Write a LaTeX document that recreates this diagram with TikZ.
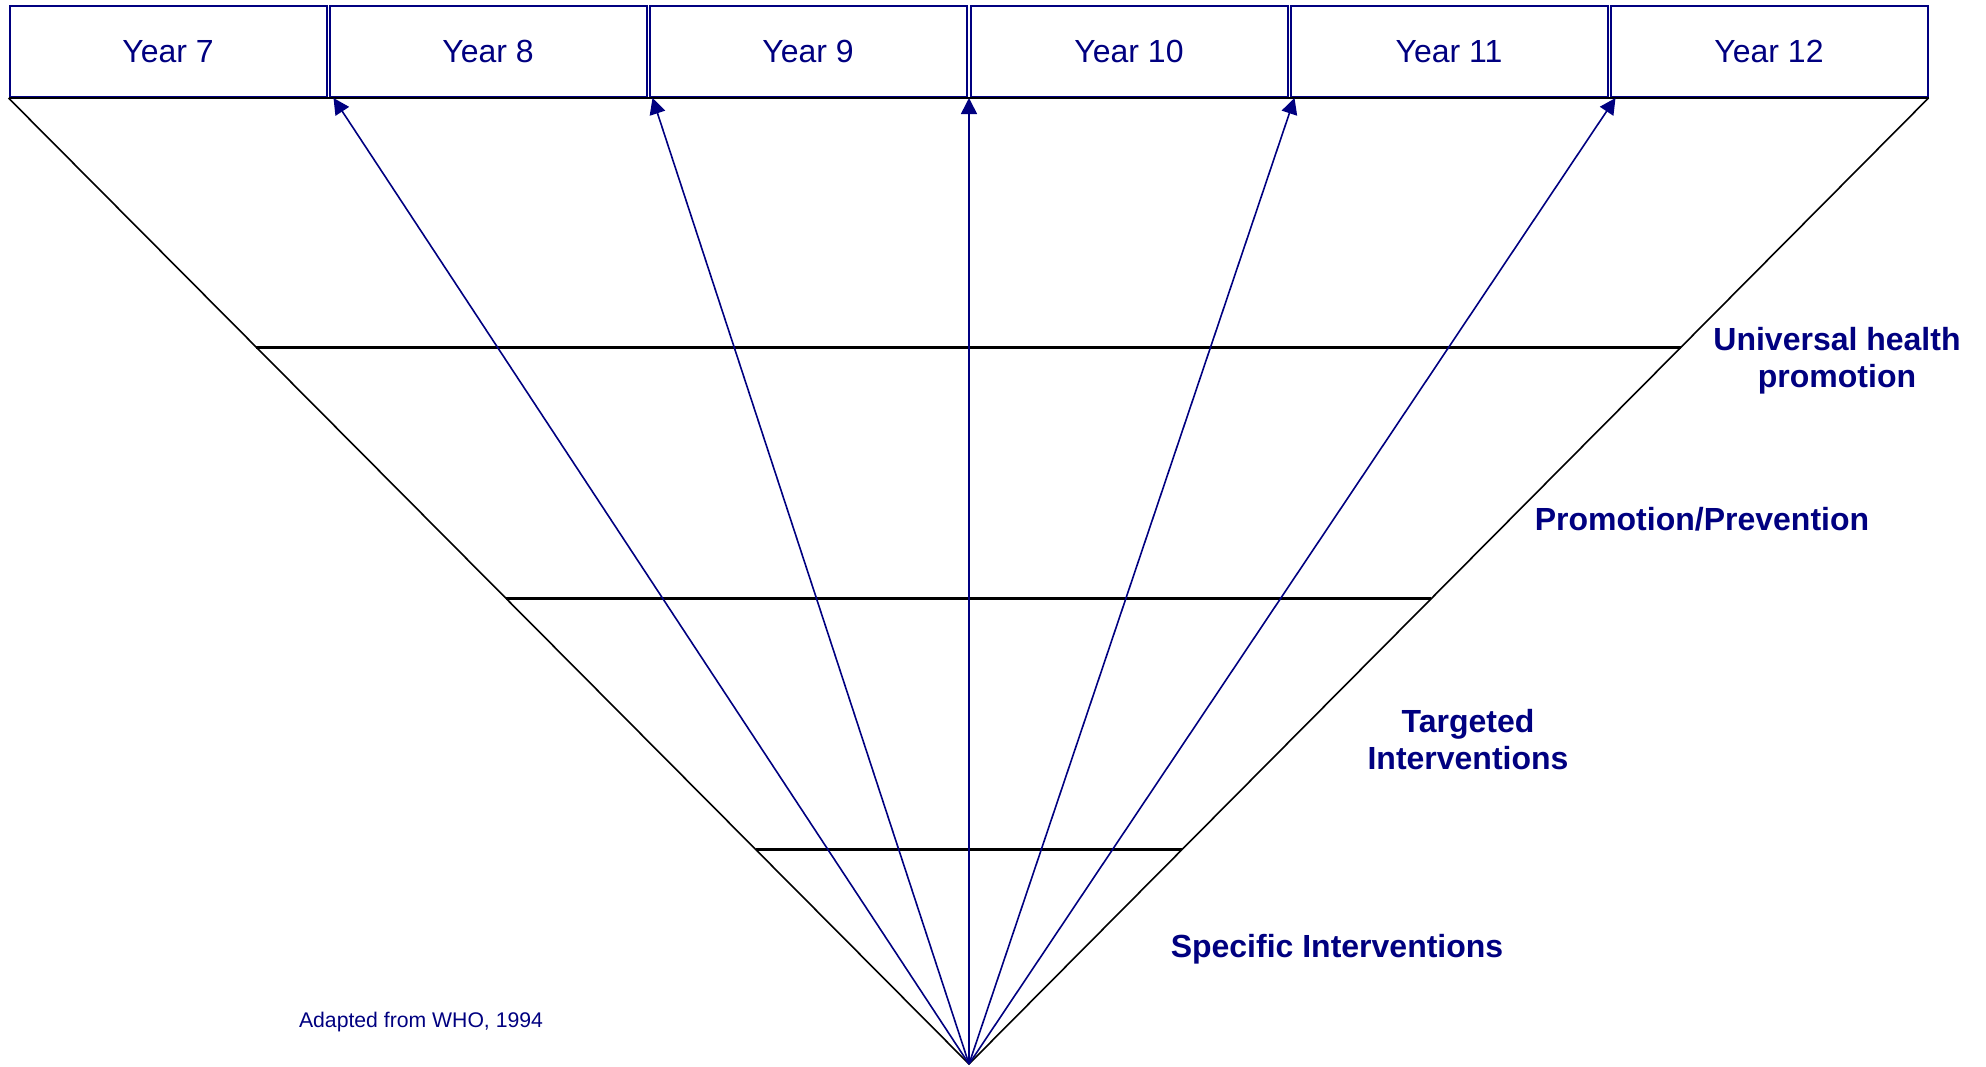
\documentclass[tikz,border=0pt]{standalone}
\usepackage{fontspec}
\setmainfont{Liberation Sans}
\usetikzlibrary{arrows.meta,calc}
\definecolor{navy}{RGB}{0,0,128}
\tikzset{
  yearbox/.style={draw=navy, line width=1pt, text=navy, minimum width=158.5pt,
    minimum height=45.5pt, inner sep=0pt, font=\fontsize{16}{19}\selectfont},
  level/.style={text=navy, align=center, font=\fontsize{16}{18.5}\selectfont\bfseries},
  funnel/.style={black, line width=0.8pt},
  bar/.style={black, line width=1.3pt},
  >={Triangle[length=8pt,width=8pt]}
}
\begin{document}
\begin{tikzpicture} [x=0.5pt, y=-0.5pt]
\useasboundingbox (0,0) rectangle (1986,1066);

\node [yearbox] (y7) at (168,51.5) {Year 7};
\node [yearbox] (y8) at (488,51.5) {Year 8};
\node [yearbox] (y9) at (808,51.5) {Year 9};
\node [yearbox] (y10) at (1129,51.5) {Year 10};
\node [yearbox] (y11) at (1449,51.5) {Year 11};
\node [yearbox] (y12) at (1769,51.5) {Year 12};

\coordinate (apex) at (969,1064);

% the funnel
\draw [funnel] (y7.south west)--(y12.south east);
\draw [funnel] (y7.south west)--(apex)--(y12.south east);

\coordinate (l1) at ($(y7.south west)!0.258!(apex)$);
\coordinate (r1) at ($(y12.south east)!0.258!(apex)$);
\coordinate (l2) at ($(y7.south west)!0.518!(apex)$);
\coordinate (r2) at ($(y12.south east)!0.518!(apex)$);
\coordinate (l3) at ($(y7.south west)!0.778!(apex)$);
\coordinate (r3) at ($(y12.south east)!0.778!(apex)$);

\draw [bar] (l1)--(r1);
\draw [bar] (l2)--(r2);
\draw [bar] (l3)--(r3);

\draw [->, navy, line width=0.8pt] (apex)--($(y8.south west)+(5,0)$);
\draw [->, navy, line width=0.8pt] (apex)--($(y9.south west)+(4,0)$);
\draw [->, navy, line width=0.8pt] (apex)--(apex|-y10.south);
\draw [->, navy, line width=0.8pt] (apex)--($(y11.south west)+(5,0)$);
\draw [->, navy, line width=0.8pt] (apex)--($(y12.south west)+(6,0)$);

\node [level] (uni) at (1837,361) {Universal health\\promotion};
\node [level] (promo) at (1702,519) {Promotion/Prevention};
\node [level] (target) at (1468,740) {Targeted\\Interventions};
\node [level] (spec) at (1337,949) {Specific Interventions};

\node [text=navy, font=\fontsize{10.6}{13}\selectfont] (src) at (421,1022) {Adapted from WHO, 1994};
\end{tikzpicture}
\end{document}
